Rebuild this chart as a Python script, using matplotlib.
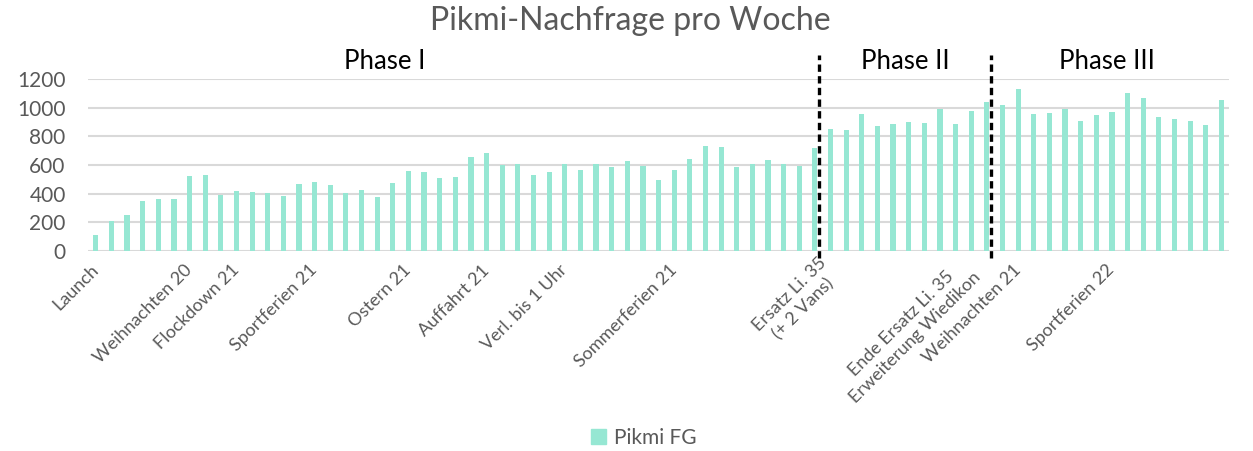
import matplotlib
matplotlib.use("Agg")
import matplotlib.pyplot as plt
from matplotlib.patches import Patch

# weekly demand
nachfrage = [115, 212, 251, 349, 363, 363, 523, 530, 391, 419, 409, 405, 384, 467, 484,
             460, 402, 426, 377, 472, 560, 551, 509, 516, 656, 681, 600, 605, 530, 551,
             605, 565, 605, 586, 628, 593, 495, 565, 644, 733, 726, 586, 609, 637, 609,
             595, 721, 851, 842, 958, 872, 888, 902, 893, 991, 888, 977, 1040, 1021, 1128,
             958, 963, 991, 907, 949, 967, 1102, 1065, 933, 921, 905, 879, 1053]

# labelled weeks (index -> label)
label_idx = [0, 6, 9, 14, 20, 25, 30, 37, 47, 56, 59, 65]
label_txt = ["Launch", "Weihnachten 20", "Flockdown 21", "Sportferien 21", "Ostern 21",
             "Auffahrt 21", "Verl. bis 1 Uhr", "Sommerferien 21", "Ersatz Li. 35\n(+ 2 Vans)",
             "Ende Ersatz Li. 35\nErweiterung Wiedikon", "Weihnachten 21", "Sportferien 22"]

phase_names = ["Phase I", "Phase II", "Phase III"]
phase_mid = [18.5, 51.8, 64.7]
phase_breaks = [46.26, 57.26]

bar_color = '#96E7D3'
grey = '#595959'
plt.rcParams['font.family'] = ['Lato', 'DejaVu Sans']

fig = plt.figure(figsize=(12.53, 4.51), dpi=100)
ax = fig.add_axes([0.0702, 0.4435, 0.9108, 0.3813])

x = list(range(len(nachfrage)))
ax.bar(x, nachfrage, width=0.33, color=bar_color, zorder=2)

ax.set_xlim(-0.5, len(nachfrage) - 0.5)
ax.set_ylim(0, 1200)
ax.set_yticks(range(0, 1201, 200))
ax.tick_params(axis='y', labelsize=15, labelcolor=grey, length=0, pad=16)
ax.grid(axis='y', color='#D9D9D9', linewidth=1.5, zorder=0)

labels = ['' for _ in x]
for i, t in zip(label_idx, label_txt):
    labels[i] = t
ax.set_xticks(x)
ax.set_xticklabels(labels, rotation=45, ha='right', va='center', rotation_mode='anchor',
                   fontsize=13, color=grey, multialignment='center', linespacing=1.3)
ax.tick_params(axis='x', length=0, pad=12)

for s in ax.spines.values():
    s.set_visible(False)

# phase separators
for b in phase_breaks:
    ax.plot([b, b], [-50, 1370], color='black', linestyle=(0, (2.2, 1.3)), linewidth=2.4,
            clip_on=False, zorder=3)

for name, m in zip(phase_names, phase_mid):
    ax.text(m, 1320, name, ha='center', va='center', fontsize=18.5, color='black')

fig.text(0.503, 0.953, 'Pikmi-Nachfrage pro Woche', ha='center', va='center',
         fontsize=23, color=grey)

fig.legend(handles=[Patch(color=bar_color, label='Pikmi FG')], loc='center',
           bbox_to_anchor=(0.514, 0.029), frameon=False, fontsize=15, labelcolor=grey,
           handlelength=0.7, handleheight=0.7, handletextpad=0.4)

fig.savefig('out.png', dpi=100)
